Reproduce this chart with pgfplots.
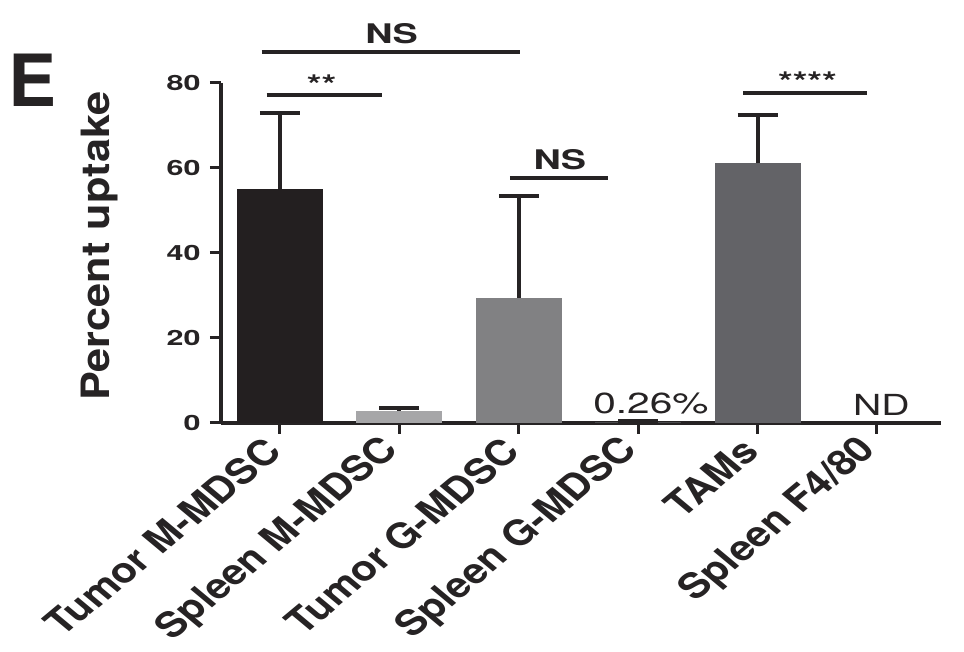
\documentclass[border=0pt]{standalone}
\usepackage{pgfplots}
\pgfplotsset{compat=1.18}
\usepackage{fontspec}
\setmainfont{TeX Gyre Heros}
\usepackage{graphicx}
\definecolor{ink}{HTML}{262324}
\definecolor{cA}{HTML}{231F20}
\definecolor{cB}{HTML}{A6A6A8}
\definecolor{cC}{HTML}{818183}
\definecolor{cD}{HTML}{4A4A4C}
\definecolor{cE}{HTML}{636367}
\newcommand{\sx}[2][1.45]{\scalebox{#1}[1]{#2}}
\newcommand{\nsfont}{\fontsize{13.5}{15}\selectfont\bfseries}
\newcommand{\ndfont}{\fontsize{14.5}{16}\selectfont}
\begin{document}
\begin{tikzpicture}
\useasboundingbox (-110.5pt,-114.65pt) rectangle (371.5pt,211.35pt);
\begin{axis}[
  at={(0,0)}, anchor=south west,
  scale only axis, width=359.85pt, height=170pt,
  xmin=-0.494, xmax=5.534, ymin=0, ymax=80,
  axis x line*=bottom, axis y line*=left,
  axis line style={-, line width=2pt, color=ink},
  x axis line style={-}, y axis line style={-},
  xtick={0,1,2,3,4,5},
  xticklabels={Tumor M-MDSC, Spleen M-MDSC, Tumor G-MDSC, Spleen G-MDSC, TAMs, Spleen F4/80},
  ytick={0,20,40,60,80},
  yticklabels={\sx{0},\sx{20},\sx{40},\sx{60},\sx{80}},
  tick align=outside, major tick length=5.5pt,
  tick style={line width=1.5pt, color=ink},
  yticklabel style={font=\fontsize{10.5}{12}\selectfont\bfseries, text=ink, inner sep=0pt, xshift=-4.5pt},
  xticklabel style={font=\fontsize{17.5}{19}\selectfont\bfseries, text=ink, inner sep=0pt, anchor=east, xshift=-3.5pt, yshift=-5.5pt, cm={0.8485,0.7071,-0.8485,0.7071,(0,0)}},
  ybar, bar width=43pt, bar shift=0pt,
  clip=false,
  error bars/y dir=plus, error bars/y explicit,
  error bars/error bar style={line width=2pt, color=ink},
  error bars/error mark options={line width=2pt, color=ink, mark size=10pt, rotate=90},
]
\addplot[fill=cA, draw=none] coordinates {(0,55.0) +- (0,17.8)};
\addplot[fill=cB, draw=none] coordinates {(1,2.8) +- (0,0.7)};
\addplot[fill=cC, draw=none] coordinates {(2,29.3) +- (0,24.0)};
\addplot[fill=cD, draw=none] coordinates {(3,0.26) +- (0,0.2)};
\addplot[fill=cE, draw=none] coordinates {(4,61.0) +- (0,11.4)};
% significance bars
\draw[line width=2pt, ink] (axis cs:-0.153,87.3) -- (axis cs:2.01,87.3);
\draw[line width=2pt, ink] (axis cs:-0.111,77.2) -- (axis cs:0.852,77.2);
\draw[line width=2pt, ink] (axis cs:1.926,57.5) -- (axis cs:2.75,57.5);
\draw[line width=2pt, ink] (axis cs:3.88,77.65) -- (axis cs:4.914,77.65);
\node[font=\nsfont, text=ink, anchor=base, inner sep=0pt] at (axis cs:0.935,89.3) {\sx[1.4]{NS}};
\node[font=\nsfont, text=ink, anchor=base, inner sep=0pt] at (axis cs:2.345,59.6) {\sx[1.4]{NS}};
\node[font=\nsfont, text=ink, anchor=base, inner sep=0pt] at (axis cs:0.349,77.2) {\sx[1.4]{**}};
\node[font=\nsfont, text=ink, anchor=base, inner sep=0pt] at (axis cs:4.418,77.9) {\sx[1.4]{****}};
\node[font=\ndfont, text=ink, anchor=base, inner sep=0pt] at (axis cs:3.107,2.28) {\sx[1.4]{0.26\%}};
\node[font=\ndfont, text=ink, anchor=base, inner sep=0pt] at (axis cs:5.038,1.81) {\sx[1.35]{ND}};
\end{axis}
\node[rotate=90, anchor=base, inner sep=0pt, font=\fontsize{19.5}{22}\selectfont\bfseries, text=ink] at (-55.5pt,88.35pt) {\scalebox{1.11}[1]{Percent uptake}};
\node[anchor=base west, inner sep=0pt, font=\fontsize{36}{40}\selectfont\bfseries, text=ink] at (-106.5pt,158pt) {E};
\end{tikzpicture}
\end{document}
